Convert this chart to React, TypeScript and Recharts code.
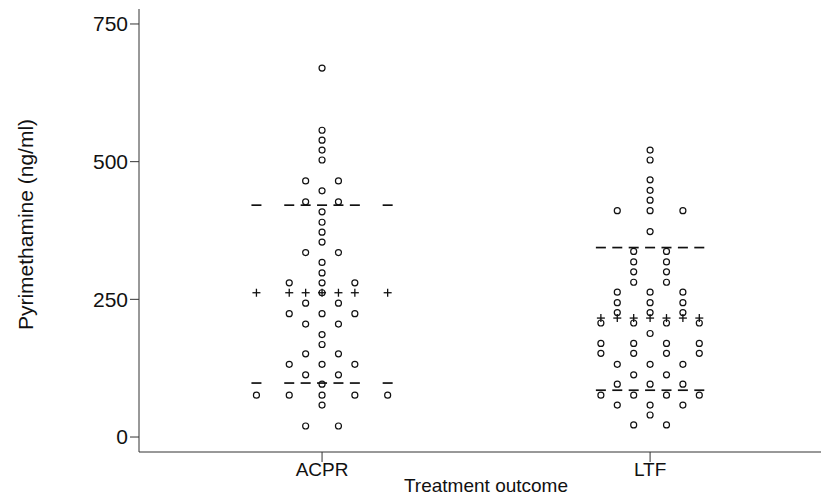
import React from 'react'
import { ScatterChart, Scatter, XAxis, YAxis } from 'recharts'

// Pyrimethamine levels (ng/ml) by treatment outcome, one value per dot
const categories = ['ACPR', 'LTF']

const acprValues = [
  670, 557, 539, 521, 503, 465, 465, 447, 427, 427, 409, 390, 372, 354, 335, 335,
  317, 298, 280, 280, 280, 262, 243, 243, 224, 224, 224, 205, 205, 186, 168, 151,
  151, 132, 132, 132, 113, 113, 96, 76, 76, 76, 76, 76, 58, 20, 20,
]

const ltfValues = [
  521, 503, 467, 448, 430, 411, 411, 411, 373, 337, 337, 318, 318, 300, 300, 281,
  281, 263, 263, 263, 244, 244, 244, 226, 226, 226, 207, 207, 207, 207, 188, 170,
  170, 170, 170, 152, 152, 152, 152, 132, 132, 132, 113, 113, 96, 96, 96, 76, 76,
  76, 76, 58, 58, 58, 40, 22, 22,
]

// mean (+) and mean ± SD (dashes), per group
const means = [262, 216]
const upperBars = [421, 344]
const lowerBars = [98, 85]

const yTicks = [0, 250, 500, 750]

const DOT_STEP = 0.1
const FONT = '"Liberation Sans", Arial, Helvetica, sans-serif'
const INK = '#111'

// spread equal values side by side, centred on the category
function spread(values: number[], center: number) {
  const counts = new Map<number, number>()
  values.forEach((v) => counts.set(v, (counts.get(v) || 0) + 1))
  const out: { x: number; y: number; off: number }[] = []
  counts.forEach((n, v) => {
    for (let i = 0; i < n; i++) {
      const off = i - (n - 1) / 2
      out.push({ x: center + off * DOT_STEP, y: v, off })
    }
  })
  return out
}

const groups = [acprValues, ltfValues].map((vals, i) => spread(vals, i + 1))

// stat markers sit in every column the group uses
const columnsOf = (pts: { off: number }[]) =>
  Array.from(new Set(pts.map((p) => p.off))).sort((a, b) => a - b)

const meanPoints = groups.flatMap((pts, i) =>
  columnsOf(pts).map((off) => ({ x: i + 1 + off * DOT_STEP, y: means[i] }))
)
const barPoints = groups.flatMap((pts, i) =>
  columnsOf(pts).flatMap((off) => [
    { x: i + 1 + off * DOT_STEP, y: upperBars[i] },
    { x: i + 1 + off * DOT_STEP, y: lowerBars[i] },
  ])
)

const Ring = ({ cx, cy }: any) => (
  <circle cx={cx} cy={cy} r={3} fill="none" stroke={INK} strokeWidth={1.2} />
)

const Plus = ({ cx, cy }: any) => (
  <g stroke={INK} strokeWidth={1.3}>
    <line x1={cx - 4} x2={cx + 4} y1={cy} y2={cy} />
    <line x1={cx} x2={cx} y1={cy - 4} y2={cy + 4} />
  </g>
)

const Dash = ({ cx, cy }: any) => (
  <line x1={cx - 5} x2={cx + 5} y1={cy} y2={cy} stroke={INK} strokeWidth={1.7} />
)

const YTitle = ({ viewBox }: any) => {
  const cx = viewBox.x + 25
  const cy = viewBox.y + viewBox.height / 2 - 6
  return (
    <text
      x={cx}
      y={cy}
      transform={`rotate(-90, ${cx}, ${cy})`}
      textAnchor="middle"
      dominantBaseline="central"
      fontFamily={FONT}
      fontSize={21}
      fill={INK}
    >
      Pyrimethamine (ng/ml)
    </text>
  )
}

const XTitle = ({ viewBox }: any) => (
  <text
    x={viewBox.x + 347}
    y={viewBox.y + 40}
    textAnchor="middle"
    fontFamily={FONT}
    fontSize={19}
    fill={INK}
  >
    Treatment outcome
  </text>
)

export default function App() {
  return (
    <div style={{ position: 'absolute', left: 0, top: 0, background: '#fff' }}>
      <ScatterChart width={821} height={497} margin={{ top: 9, right: 0, left: 0, bottom: 0 }}>
        <XAxis
          type="number"
          dataKey="x"
          domain={[0.442, 2.521]}
          allowDataOverflow
          ticks={[1, 2]}
          tickFormatter={(v) => categories[v - 1]}
          tick={{ fontFamily: FONT, fontSize: 19, fill: INK }}
          tickSize={10}
          tickMargin={1}
          height={45}
          stroke="#333"
          label={<XTitle />}
        />
        <YAxis
          type="number"
          dataKey="y"
          domain={[-27.2, 777.2]}
          allowDataOverflow
          ticks={yTicks}
          tick={{ fontFamily: FONT, fontSize: 21, fill: INK }}
          tickSize={9}
          tickMargin={2}
          width={139}
          stroke="#333"
          label={<YTitle />}
        />
        {groups.map((pts, i) => (
          <Scatter key={categories[i]} data={pts} shape={<Ring />} isAnimationActive={false} />
        ))}
        <Scatter data={meanPoints} shape={<Plus />} isAnimationActive={false} />
        <Scatter data={barPoints} shape={<Dash />} isAnimationActive={false} />
      </ScatterChart>
    </div>
  )
}
